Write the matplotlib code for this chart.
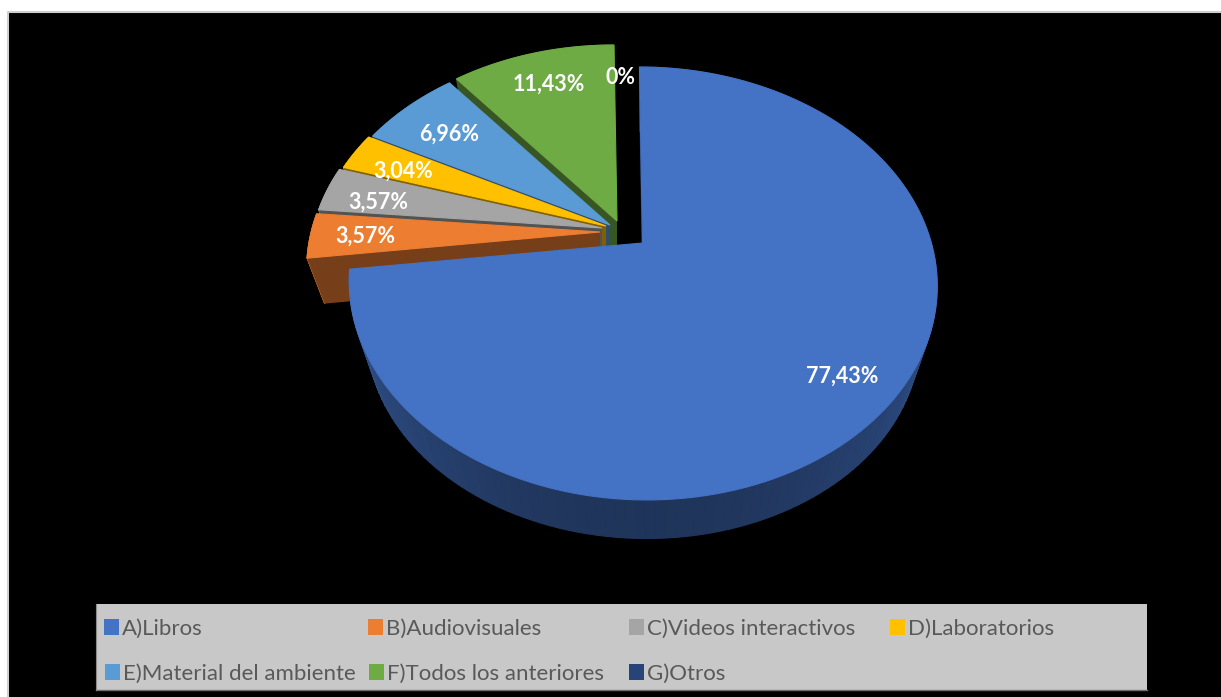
import numpy as np
import matplotlib
matplotlib.use("Agg")
import matplotlib.pyplot as plt
from matplotlib.patches import Rectangle

categories = ["A)Libros", "B)Audiovisuales", "C)Videos interactivos", "D)Laboratorios",
              "E)Material del ambiente", "F)Todos los anteriores", "G)Otros"]
values = [77.43, 3.57, 3.57, 3.04, 6.96, 11.43, 0]
value_labels = ["77,43%", "3,57%", "3,57%", "3,04%", "6,96%", "11,43%", "0%"]
colors = ["#4472C4", "#ED7D31", "#A5A5A5", "#FFC000", "#5B9BD5", "#6FAB45", "#264478"]

# where each slice tip lands after exploding
apex_x = [642.5, 600, 602, 606, 610, 617, 617]
apex_y = [243, 232, 228, 226, 225, 221, 221]
depths = [54, 47, 47, 47, 47, 47, 47]
label_x = [842, 365, 378, 403, 449, 549, 620]
label_y = [376, 236, 202, 171, 134, 84, 77]

legend_marker_x = [104, 368, 629, 890, 105, 369, 629]
legend_row_y = [627, 627, 627, 627, 672, 672, 672]

# perspective of the tilted disc
RX, RY, SKEW, K = 288.8, 208.9, -3.6, 0.187
BOTTOM_SCALE = 0.94


def project(theta, x0, y0, scale=1.0, drop=0.0):
    u, v = np.sin(theta), np.cos(theta)
    w = 1 + K * v
    return x0 + scale * (RX * u + SKEW * v) / w, y0 + drop - scale * RY * v / w


def shade(hex_color, f):
    return tuple(c * f for c in matplotlib.colors.to_rgb(hex_color))


def draw_slice(ax, start, end, color, x0, y0, drop, z):
    thetas = np.linspace(start, end, 160)
    tx, ty = project(thetas, x0, y0)
    bx, by = project(thetas, x0, y0, BOTTOM_SCALE, drop)

    # outer wall, darker towards the front
    for i in range(len(thetas) - 1):
        mid = (thetas[i] + thetas[i + 1]) / 2
        f = 0.46 + 0.24 * abs(np.sin(mid)) ** 2
        ax.fill([tx[i], tx[i + 1], bx[i + 1], bx[i]], [ty[i], ty[i + 1], by[i + 1], by[i]],
                color=shade(color, f), lw=0.8, zorder=z)

    # radial wall on the leading edge
    ax.fill([x0, tx[0], bx[0], x0], [y0, ty[0], by[0], y0 + drop],
            color=shade(color, 0.5), lw=0, zorder=z + 0.1)

    # top face, its edge hides the seam with the wall
    ax.fill(np.r_[x0, tx], np.r_[y0, ty], color=color, lw=0.8, zorder=z + 0.2)


plt.rcParams["font.family"] = ["Lato", "DejaVu Sans"]

fig = plt.figure(figsize=(12.21, 6.97), dpi=100, facecolor="white")
ax = fig.add_axes([0, 0, 1, 1])
ax.set_xlim(0, 1221)
ax.set_ylim(697, 0)
ax.axis("off")

ax.add_patch(Rectangle((8, 12), 1213, 685, fc="black", ec="none", zorder=0))
ax.plot([8, 8, 1221], [697, 12, 12], color="#CFCFCF", lw=1.5, zorder=1)

fractions = np.array(values) / sum(values)
edges = np.r_[0, np.cumsum(fractions)] * 2 * np.pi

# back slices first, the big one goes on top
for i in range(len(values) - 1, -1, -1):
    if values[i] == 0:
        continue
    draw_slice(ax, edges[i], edges[i + 1], colors[i], apex_x[i], apex_y[i], depths[i],
               2 + (len(values) - i))

for i in range(len(values)):
    ax.text(label_x[i], label_y[i], value_labels[i], color="white", fontsize=15.5, fontweight="bold",
            ha="center", va="center", zorder=30)

# legend strip
ax.add_patch(Rectangle((96, 604), 1051, 86, fc="#C8C8C8", ec="none", zorder=20))
ax.plot([96, 1147], [690, 690], color="#6E6E6E", lw=1, zorder=21)
ax.plot([96, 96], [604, 690], color="#8A8A8A", lw=0.8, zorder=21)
for i in range(len(categories)):
    ax.add_patch(Rectangle((legend_marker_x[i], legend_row_y[i] - 8), 15, 16, fc=colors[i], ec="none", zorder=22))
    ax.text(legend_marker_x[i] + 18, legend_row_y[i] + 1.5, categories[i], color="#595959", fontsize=16,
            ha="left", va="center", zorder=22)

fig.savefig("out.png", dpi=100, facecolor="white")
